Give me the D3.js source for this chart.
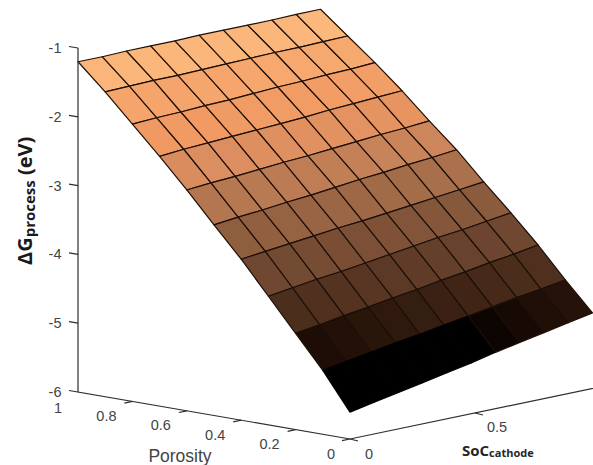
<!DOCTYPE html>
<html>
<head>
<meta charset="utf-8">
<script src="https://cdn.jsdelivr.net/npm/d3@7"></script>
<style>
  html, body { margin: 0; padding: 0; background: #fff; }
  svg { display: block; }
  .tick-label { font-family: "Liberation Sans", Arial, sans-serif; font-size: 14.5px; fill: #444; text-anchor: middle; }
  .axis-line { stroke: #2e2e2e; stroke-width: 1.2; fill: none; }
</style>
</head>
<body>
<svg id="chart" width="593" height="465"></svg>
<script>
var socValues = [0, 0.097, 0.194, 0.291, 0.388, 0.485, 0.582, 0.679, 0.776, 0.873, 0.97];
var porosityValues = [1, 0.9, 0.8, 0.7, 0.6, 0.5, 0.4, 0.3, 0.2, 0.1, 0];

// one row per porosity value, one column per SoC value
var dG = [
  [-1.20, -1.20, -1.19, -1.19, -1.19, -1.18, -1.18, -1.18, -1.18, -1.17, -1.17],
  [-1.57, -1.56, -1.55, -1.55, -1.54, -1.53, -1.52, -1.51, -1.51, -1.50, -1.49],
  [-1.97, -1.95, -1.94, -1.92, -1.91, -1.89, -1.87, -1.86, -1.84, -1.83, -1.81],
  [-2.37, -2.34, -2.32, -2.30, -2.28, -2.26, -2.24, -2.21, -2.19, -2.17, -2.15],
  [-2.79, -2.76, -2.74, -2.71, -2.68, -2.66, -2.63, -2.60, -2.57, -2.55, -2.52],
  [-3.23, -3.19, -3.16, -3.12, -3.09, -3.05, -3.01, -2.98, -2.94, -2.91, -2.87],
  [-3.66, -3.62, -3.58, -3.54, -3.50, -3.47, -3.43, -3.39, -3.35, -3.31, -3.27],
  [-4.13, -4.08, -4.03, -3.99, -3.94, -3.89, -3.84, -3.79, -3.75, -3.70, -3.65],
  [-4.60, -4.55, -4.49, -4.44, -4.38, -4.33, -4.27, -4.22, -4.16, -4.11, -4.05],
  [-5.07, -5.01, -4.95, -4.89, -4.84, -4.78, -4.72, -4.66, -4.60, -4.55, -4.49],
  [-5.61, -5.54, -5.47, -5.40, -5.33, -5.26, -5.18, -5.11, -5.04, -4.97, -4.90]
];

var zTicks = [-1, -2, -3, -4, -5, -6];
var porosityTicks = [1, 0.8, 0.6, 0.4, 0.2, 0];
var socTicks = [0, 0.5];

var svg = d3.select("#chart");

// oblique projection, each data axis gets an x and a y contribution
var zY = d3.scaleLinear().domain([-6, -1]).range([392, 48]);
var socX = d3.scaleLinear().domain([0, 1]).range([0, 250]);
var socY = d3.scaleLinear().domain([0, 1]).range([0, -52]);
var porX = d3.scaleLinear().domain([1, 0]).range([78, 350]);
var porY = d3.scaleLinear().domain([1, 0]).range([0, 47]);

function project(p, s, z) {
  return [porX(p) + socX(s), zY(z) + socY(s) + porY(p)];
}

var color = d3.scaleLinear()
  .domain([-4.98, -4.9, -4.8, -4.37, -3.9, -3.46, -3.0, -2.6, -2.2, -1.75, -1.3])
  .range(["#000000", "#100602", "#1e0e06", "#4a2c1b", "#6e4630", "#8c5c3e", "#b27650", "#d78c5f", "#f09862", "#f5a56c", "#fcb97d"])
  .clamp(true);

var line = d3.line();

// axes go below the surface
var axes = svg.append("g").attr("class", "axes");

axes.append("path").attr("class", "axis-line")
  .attr("d", line([project(1, 0, -1), project(1, 0, -6), project(0, 0, -6), project(0, 1, -6)]));

axes.selectAll(".z-tick")
  .data(zTicks)
  .enter().append("path")
  .attr("class", "axis-line")
  .attr("d", function(d) {
    var a = project(1, 0, d);
    return line([a, [a[0] - 9, a[1] - 1.5]]);
  });

axes.selectAll(".por-tick")
  .data(porosityTicks)
  .enter().append("path")
  .attr("class", "axis-line")
  .attr("d", function(d) {
    var a = project(d, 0, -6);
    return line([a, [a[0] + (d === 1 ? 0 : -8), a[1] + (d === 1 ? 0 : 1.7)]]);
  });

axes.selectAll(".soc-tick")
  .data(socTicks)
  .enter().append("path")
  .attr("class", "axis-line")
  .attr("d", function(d) {
    var a = project(0, d, -6);
    return line([a, [a[0] + 8, a[1] + 2]]);
  });

// surface cells, back row first
var cells = [];
porosityValues.slice(0, -1).forEach(function(p, i) {
  socValues.slice(0, -1).forEach(function(s, j) {
    cells.push({
      corners: [
        project(p, s, dG[i][j]),
        project(p, socValues[j + 1], dG[i][j + 1]),
        project(porosityValues[i + 1], socValues[j + 1], dG[i + 1][j + 1]),
        project(porosityValues[i + 1], s, dG[i + 1][j])
      ],
      z: (dG[i][j] + dG[i][j + 1] + dG[i + 1][j] + dG[i + 1][j + 1]) / 4
    });
  });
});

svg.append("g").selectAll("path")
  .data(cells)
  .enter().append("path")
  .attr("d", function(d) { return line(d.corners) + "Z"; })
  .attr("fill", function(d) { return color(d.z); })
  .attr("stroke", function(d) { return d.z < -4.98 ? "#000" : "#1c0f08"; })
  .attr("stroke-width", 1.2)
  .attr("stroke-linejoin", "round");

// tick labels
var labels = svg.append("g");

labels.selectAll(".z-label")
  .data(zTicks)
  .enter().append("text")
  .attr("class", "tick-label")
  .attr("x", 55)
  .attr("y", function(d) { return zY(d) + 5; })
  .text(function(d) { return d; });

labels.selectAll(".por-label")
  .data(porosityTicks)
  .enter().append("text")
  .attr("class", "tick-label")
  .attr("x", function(d) {
    if (d === 1) return 58;
    return porX(d) - (d === 0 ? 19 : 26);
  })
  .attr("y", function(d) { return d === 1 ? 413 : 392 + porY(d) + 19.5; })
  .text(function(d) { return d; });

labels.selectAll(".soc-label")
  .data(socTicks)
  .enter().append("text")
  .attr("class", "tick-label")
  .attr("x", function(d) { return project(0, d, -6)[0] + (d === 0 ? 19 : 22); })
  .attr("y", function(d) { return project(0, d, -6)[1] + (d === 0 ? 20 : 19); })
  .text(function(d) { return d; });

labels.append("text")
  .attr("x", 180)
  .attr("y", 462)
  .attr("text-anchor", "middle")
  .attr("font-family", "'Liberation Sans', Arial, sans-serif")
  .attr("font-size", 17.5)
  .attr("fill", "#444")
  .text("Porosity");

var socTitle = labels.append("text")
  .attr("x", 462)
  .attr("y", 456)
  .attr("font-family", "'Open Sans', sans-serif")
  .attr("font-weight", 700)
  .attr("fill", "#262626");
socTitle.append("tspan").attr("font-size", 15).text("SoC");
socTitle.append("tspan").attr("font-size", 11).attr("dy", 1).text("cathode");

var yTitle = labels.append("text")
  .attr("transform", "translate(32,265) rotate(-90)")
  .attr("font-family", "'Open Sans', sans-serif")
  .attr("font-weight", 700)
  .attr("fill", "#1a1a1a");
yTitle.append("tspan").attr("font-size", 20).text("ΔG");
yTitle.append("tspan").attr("font-size", 15).attr("dy", 3).text("process");
yTitle.append("tspan").attr("font-size", 20).attr("dy", -3).text(" (eV)");
</script>
</body>
</html>
